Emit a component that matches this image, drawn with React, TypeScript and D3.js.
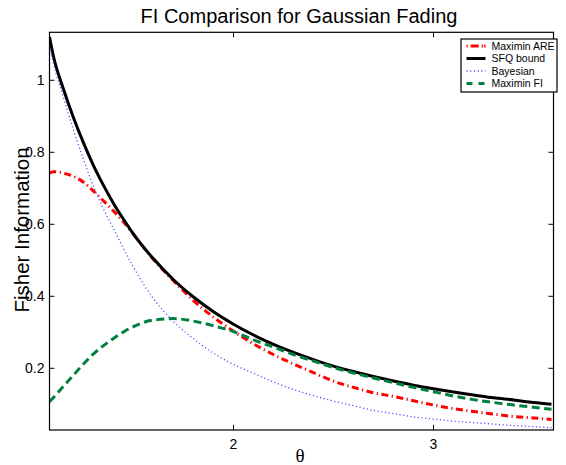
import React, { useEffect, useRef } from "react";
import * as d3 from "d3";

const theta = [1.08, 1.1, 1.15, 1.2, 1.25, 1.3, 1.35, 1.4, 1.45, 1.5, 1.6, 1.7, 1.8, 1.9, 2.0, 2.1, 2.2, 2.3, 2.4, 2.5, 2.6, 2.7, 2.8, 2.9, 3.0, 3.1, 3.2, 3.3, 3.4, 3.5, 3.59];
const maximinARE = [0.742, 0.746, 0.742, 0.733, 0.717, 0.692, 0.665, 0.637, 0.607, 0.572, 0.502, 0.443, 0.388, 0.342, 0.303, 0.268, 0.238, 0.212, 0.188, 0.164, 0.147, 0.132, 0.122, 0.110, 0.098, 0.088, 0.080, 0.073, 0.066, 0.062, 0.058];
const sfqBound = [1.12, 1.066, 0.975, 0.896, 0.826, 0.763, 0.708, 0.658, 0.614, 0.573, 0.504, 0.446, 0.398, 0.357, 0.3225, 0.2925, 0.2665, 0.244, 0.224, 0.206, 0.191, 0.177, 0.1645, 0.153, 0.143, 0.134, 0.126, 0.118, 0.112, 0.105, 0.100];
const bayesian = [1.1, 1.047, 0.952, 0.862, 0.78, 0.705, 0.643, 0.588, 0.533, 0.481, 0.393, 0.330, 0.282, 0.242, 0.211, 0.186, 0.162, 0.141, 0.124, 0.109, 0.096, 0.083, 0.074, 0.065, 0.059, 0.053, 0.049, 0.045, 0.041, 0.038, 0.035];
const maximinFI = [0.107, 0.119, 0.150, 0.181, 0.212, 0.240, 0.263, 0.283, 0.301, 0.316, 0.334, 0.338, 0.331, 0.318, 0.302, 0.279, 0.259, 0.238, 0.220, 0.202, 0.187, 0.173, 0.160, 0.147, 0.135, 0.123, 0.113, 0.105, 0.098, 0.092, 0.086];

const seriesNames = ["Maximin ARE", "SFQ bound", "Bayesian", "Maximin FI"];
const xTicks = [2, 3];
const yTicks = [0.2, 0.4, 0.6, 0.8, 1];
const xDomain = [1.08, 3.6];
const yDomain = [0.0286, 1.1333];
const titleText = "FI Comparison for Gaussian Fading";
const xLabel = "θ";
const yLabel = "Fisher Information";

const W = 566, H = 465;
const L = 49.5, R = 553.5, T = 32.3, B = 430;

const styles = [
  { color: "#ff0000", width: 3, dash: "7,3.5,1.2,3.5" },
  { color: "#000000", width: 3, dash: null },
  { color: "#4444ff", width: 1.3, dash: "1.1,2.6" },
  { color: "#008040", width: 3, dash: "8,4.5" },
];

export default function App() {
  const ref = useRef<SVGSVGElement>(null);
  useEffect(() => {
    const svg = d3.select(ref.current);
    svg.selectAll("*").remove();
    const x = d3.scaleLinear().domain(xDomain).range([L, R]);
    const y = d3.scaleLinear().domain(yDomain).range([B, T]);
    const font = "'Liberation Sans', Arial, Helvetica, sans-serif";

    svg.append("defs").append("clipPath").attr("id", "clip")
      .append("rect").attr("x", L).attr("y", T).attr("width", R - L).attr("height", B - T);

    svg.append("rect").attr("x", L).attr("y", T).attr("width", R - L).attr("height", B - T).attr("fill", "#fff");

    const data = [maximinARE, sfqBound, bayesian, maximinFI];
    const line = d3.line<number>().x((_, i) => x(theta[i])).y((d) => y(d)).curve(d3.curveMonotoneX);
    const g = svg.append("g").attr("clip-path", "url(#clip)");
    data.forEach((vals, k) => {
      const p = g.append("path").attr("d", line(vals)!).attr("fill", "none")
        .attr("stroke", styles[k].color).attr("stroke-width", styles[k].width)
        .attr("stroke-linejoin", "round");
      if (styles[k].dash) p.attr("stroke-dasharray", styles[k].dash);
    });

    svg.append("rect").attr("x", L).attr("y", T).attr("width", R - L).attr("height", B - T)
      .attr("fill", "none").attr("stroke", "#000").attr("stroke-width", 1.2);

    const tl = 5;
    xTicks.forEach((t) => {
      const px = x(t);
      svg.append("line").attr("x1", px).attr("x2", px).attr("y1", B).attr("y2", B - tl).attr("stroke", "#000");
      svg.append("line").attr("x1", px).attr("x2", px).attr("y1", T).attr("y2", T + tl).attr("stroke", "#000");
      svg.append("text").attr("x", px).attr("y", 449).attr("text-anchor", "middle")
        .attr("font-family", font).attr("font-size", 14).text(String(t));
    });
    yTicks.forEach((t) => {
      const py = y(t);
      svg.append("line").attr("x1", L).attr("x2", L + tl).attr("y1", py).attr("y2", py).attr("stroke", "#000");
      svg.append("line").attr("x1", R).attr("x2", R - tl).attr("y1", py).attr("y2", py).attr("stroke", "#000");
      svg.append("text").attr("x", 44.5).attr("y", py + 5).attr("text-anchor", "end")
        .attr("font-family", font).attr("font-size", 14).text(String(t));
    });

    svg.append("text").attr("x", 299).attr("y", 23.3).attr("text-anchor", "middle")
      .attr("font-family", font).attr("font-size", 20).text(titleText);
    svg.append("text").attr("x", 300).attr("y", 462).attr("text-anchor", "middle")
      .attr("font-family", "'Liberation Serif', 'Times New Roman', serif").attr("font-size", 19).text(xLabel);
    svg.append("text").attr("transform", "translate(28.5,230) rotate(-90)").attr("text-anchor", "middle")
      .attr("font-family", font).attr("font-size", 20.5).text(yLabel);

    const lg = svg.append("g");
    lg.append("rect").attr("x", 461).attr("y", 39).attr("width", 96).attr("height", 53)
      .attr("fill", "#fff").attr("stroke", "#000").attr("stroke-width", 1.2);
    seriesNames.forEach((name, k) => {
      const cy = 46 + k * 12.5;
      const p = lg.append("line").attr("x1", 466.5).attr("x2", 485.5).attr("y1", cy).attr("y2", cy)
        .attr("stroke", styles[k].color).attr("stroke-width", styles[k].width);
      if (styles[k].dash) p.attr("stroke-dasharray", k === 0 ? "1.2,3,8,3,1.2" : k === 3 ? "6,6,6" : styles[k].dash);
      lg.append("text").attr("x", 491.5).attr("y", cy + 3.7).attr("font-family", font).attr("font-size", 10.5).text(name);
    });
  }, []);
  return (
    <svg ref={ref} width={W} height={H} style={{ position: "absolute", left: 0, top: 0, background: "#fff" }} />
  );
}
